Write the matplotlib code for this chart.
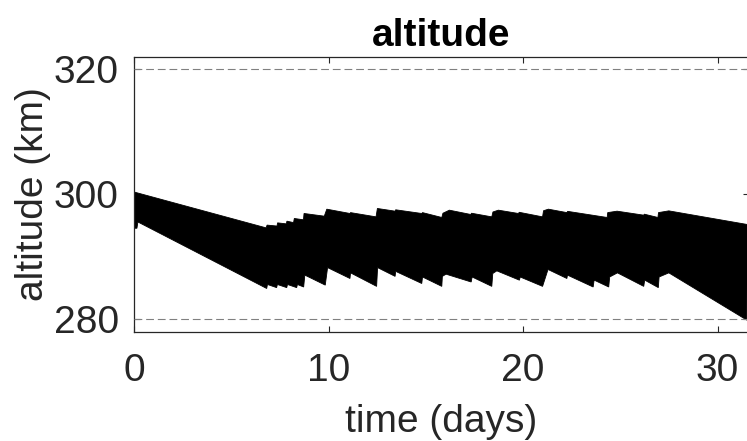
import numpy as np
import matplotlib
matplotlib.use('Agg')
import matplotlib.pyplot as plt

plt.rcParams['font.family'] = ['Liberation Sans', 'DejaVu Sans']

# upper envelope of the orbit altitude band (days, km)
upper_t = [0.00, 6.79, 6.84, 7.35, 7.38, 7.83, 7.86, 8.20, 8.24, 8.71, 8.74,
           9.78, 9.91, 11.10, 11.13, 12.44, 12.51, 13.42, 13.45, 14.79, 14.83,
           15.82, 15.88, 16.21, 17.31, 17.35, 18.39, 18.45, 18.73, 19.76, 19.80,
           21.00, 21.05, 21.30, 22.25, 22.29, 24.32, 24.35, 24.83, 26.20, 26.23,
           26.93, 26.96, 27.49, 31.52]
upper_alt = [300.4, 294.66, 295.10, 294.95, 295.46, 295.30, 295.73, 295.50, 296.16, 295.95, 296.96,
             296.53, 297.65, 296.96, 297.10, 296.42, 297.76, 297.33, 297.55, 296.96, 297.10,
             296.32, 297.00, 297.49, 296.80, 297.00, 296.42, 297.20, 297.49, 296.96, 297.15,
             296.42, 297.40, 297.65, 297.10, 297.30, 296.32, 297.10, 297.33, 296.69, 296.85,
             296.32, 297.10, 297.38, 295.20]

# lower envelope (days, km)
lower_t = [0.00, 0.15, 0.20, 6.82, 6.86, 7.33, 7.37, 7.85, 7.89, 8.36, 8.40,
           8.72, 8.78, 9.83, 9.95, 11.10, 11.13, 12.47, 12.52, 13.42, 13.45,
           14.79, 14.83, 15.82, 15.85, 16.04, 17.33, 17.38, 18.39, 18.44, 18.65,
           19.81, 19.85, 21.00, 21.28, 22.25, 22.28, 23.60, 23.65, 24.40, 24.45,
           24.85, 26.20, 26.25, 26.95, 26.99, 27.49, 31.50]
lower_alt = [294.6, 294.6, 295.6, 284.96, 285.6, 285.1, 285.6, 285.1, 285.6, 285.1, 285.6,
             285.2, 287.1, 285.5, 288.3, 286.56, 287.46, 285.3, 288.3, 286.9, 287.7,
             285.76, 286.8, 285.3, 286.9, 287.25, 286.0, 286.8, 285.3, 287.36, 287.78,
             286.29, 286.8, 285.3, 288.0, 286.56, 287.1, 285.2, 286.3, 285.2, 286.8,
             287.46, 285.3, 286.3, 285.1, 286.8, 287.46, 279.9]

limit_alt = [280, 320]
xticks = [0, 10, 20, 30]
yticks = [280, 300, 320]

dark = '#262626'

fig = plt.figure(figsize=(7.47, 4.41), dpi=100)
ax = fig.add_axes([0.1794, 0.2472, 0.823, 0.6236])

#band drawn as one polygon: upper envelope forward, lower envelope back
poly_t = np.r_[upper_t, lower_t[::-1]]
poly_alt = np.r_[upper_alt, lower_alt[::-1]]
ax.fill(poly_t, poly_alt, facecolor='black', edgecolor='black', linewidth=0.6, zorder=2)

for a in limit_alt:
    ax.axhline(a, color='#808080', linewidth=0.8, dashes=(7, 3.5), zorder=3)

ax.set_xlim(0, 31.6)
ax.set_ylim(278, 322)
ax.set_xticks(xticks)
ax.set_yticks(yticks)

ax.tick_params(direction='in', length=4.3, width=0.8, colors=dark, labelsize=28,
               top=True, right=True)
ax.tick_params(axis='x', pad=15)
ax.tick_params(axis='y', pad=11)
for s in ax.spines.values():
    s.set_color(dark)
    s.set_linewidth(0.9)

ax.set_title('altitude', fontsize=28, fontweight='bold', color='black', pad=8)
ax.set_xlabel('time (days)', fontsize=28, color=dark, labelpad=11)
ax.set_ylabel('altitude (km)', fontsize=28, color=dark, labelpad=2)

fig.savefig('out.png', dpi=100)
